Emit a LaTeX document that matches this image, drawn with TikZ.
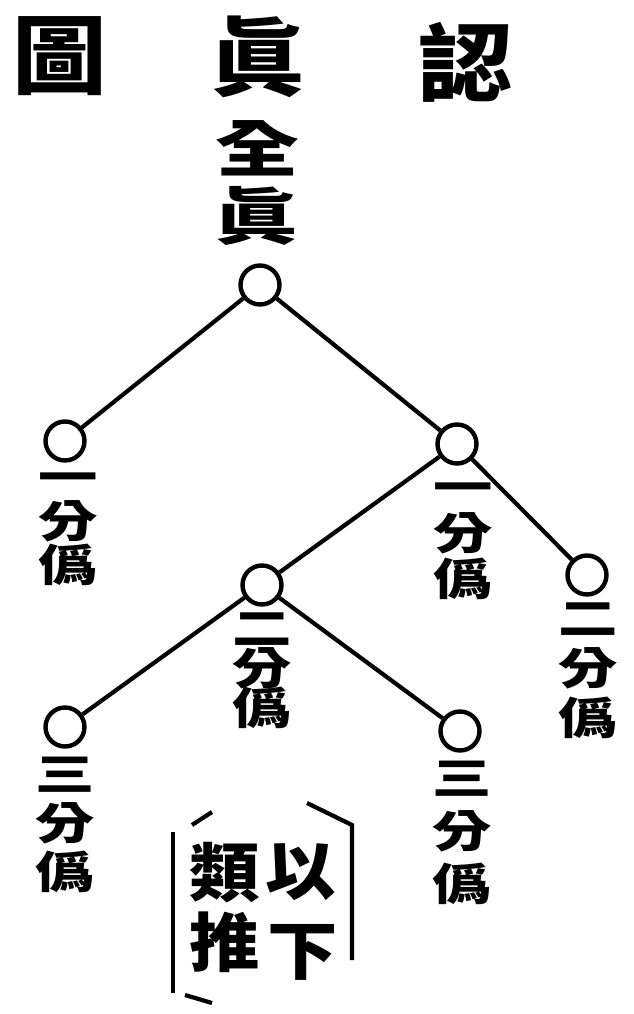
\documentclass[tikz,border=0pt]{standalone}
\usepackage{fontspec}
\newfontfamily\cjk[FakeStretch=1.1]{Noto Sans CJK TC}
\newfontfamily\cjkwide[FakeStretch=1.35]{Noto Sans CJK TC}

\tikzset{
  dot/.style={draw, circle, line width=4.4pt, minimum size=39pt, inner sep=0pt},
  link/.style={line width=4.2pt},
  titlechar/.style={inner sep=0pt, text height=75.7pt, text depth=10.3pt,
    font=\cjk\bfseries\fontsize{86}{86}\selectfont},
  topchar/.style={inner sep=0pt, text height=54.6pt, text depth=7.4pt,
    font=\cjkwide\bfseries\fontsize{62}{62}\selectfont},
  ch/.style={inner sep=0pt, text height=38.7pt, text depth=5.3pt,
    font=\cjkwide\bfseries\fontsize{44}{44}\selectfont},
  notechar/.style={inner sep=0pt, text height=56.3pt, text depth=7.7pt,
    font=\cjk\bfseries\fontsize{64}{64}\selectfont},
}

\begin{document}
\begin{tikzpicture}[x=1pt,y=-1pt]
\useasboundingbox (0,0) rectangle (634,1014);

% title, read right to left
\node[titlechar] at (60,55) (tu) {圖};
\node[titlechar] at (258,57) (zhen) {眞};
\node[titlechar] at (466,63) (ren) {認};

\node[topchar] at (257,148) (quan) {全};
\node[topchar] at (256,216) (quanzhen) {眞};

% the tree
\node[dot] at (260,285) (root) {};
\node[dot] at (65,441) (yiL) {};
\node[dot] at (457,444) (yiR) {};
\node[dot] at (587,575) (erR) {};
\node[dot] at (262,585) (erM) {};
\node[dot] at (65,727) (sanL) {};
\node[dot] at (460,731) (sanR) {};

\draw[link] (root) -- (yiL);
\draw[link] (root) -- (yiR);
\draw[link] (yiR) -- (erM);
\draw[link] (yiR) -- (erR);
\draw[link] (erM) -- (sanL);
\draw[link] (erM) -- (sanR);

% vertical labels under the circles
\foreach \nm/\x/\y/\d/\n in {yiL/68/477/44/一, yiR/463/487/46/一, erR/588/618/50/二,
    erM/262/628/40/二, sanL/65/774/49/三, sanR/462/778/53/三}
  \foreach \c [count=\i from 0] in {\n,分,僞}
    \node[ch] at (\x,{\y+\d*\i}) (\nm-\i) {\c};

% note in brackets
\node[notechar] at (301,870) (yi) {以};
\node[notechar] at (303,950) (xia) {下};
\node[notechar] at (225,872) (lei) {類};
\node[notechar] at (225,942) (tui) {推};

\draw[link] (212,812) -- (192,825);
\draw[link] (173,832) -- (173,993);
\draw[link] (185,995) -- (212,1003);
\draw[link] (307,803) -- (352,825) -- (352,960);

\end{tikzpicture}
\end{document}
